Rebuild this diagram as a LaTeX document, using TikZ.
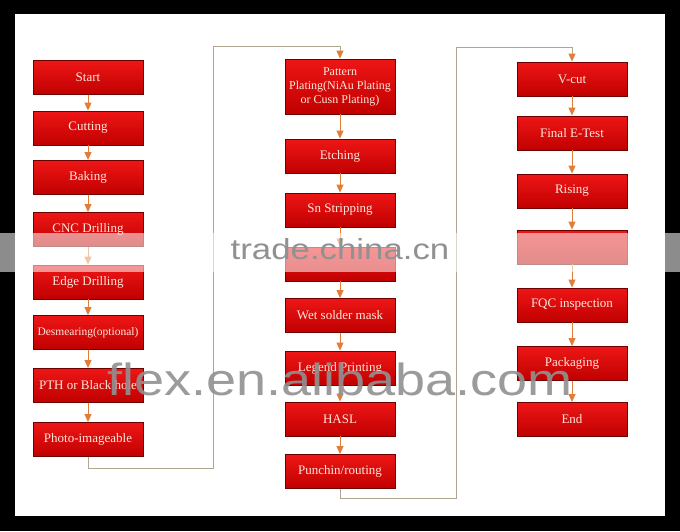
\documentclass[tikz,border=0pt]{standalone}
\usepackage{fontspec}
\setmainfont{Liberation Serif}
\newfontfamily\wmfont{Liberation Sans}
\usetikzlibrary{arrows.meta}
\definecolor{boxtop}{RGB}{238,22,22}
\definecolor{boxbot}{RGB}{192,0,0}
\definecolor{boxedge}{RGB}{110,0,0}
\definecolor{boxtext}{RGB}{255,230,218}
\definecolor{arrc}{RGB}{225,125,55}
\definecolor{linkc}{RGB}{175,165,145}
\definecolor{wmc}{RGB}{145,145,145}
\begin{document}
\begin{tikzpicture}[x=1pt,y=-1pt,
  stepbox/.style={draw=boxedge, line width=0.9pt, top color=boxtop, bottom color=boxbot,
    text=boxtext, font=\fontsize{13}{15}\selectfont, minimum width=110pt,
    minimum height=34pt, inner sep=0pt, align=center},
  arr/.style={draw=arrc, line width=0.9pt, -{Triangle[width=7pt,length=8pt]}},
  link/.style={draw=linkc, line width=0.9pt, -{Triangle[width=7pt,length=8pt,color=arrc]}},
  wm/.style={text=wmc, font=\wmfont, inner sep=0pt}]
\useasboundingbox (0,0) rectangle (680,531);
\fill[black] (0,0) rectangle (680,531);
\fill[white] (15,14) rectangle (665,516);

% column 1
\node[stepbox] (start) at (88,77.5) {Start};
\node[stepbox] (cut) at (88,128) {Cutting};
\node[stepbox] (bake) at (88,177.5) {Baking};
\node[stepbox] (cnc) at (88,229.5) {CNC Drilling};
\node[stepbox] (edge) at (88,282) {Edge Drilling};
\node[stepbox, font=\fontsize{11.5}{13}\selectfont] (desm) at (88,332.5) {Desmearing(optional)};
\node[stepbox] (pth) at (88,385.5) {PTH or Black hole};
\node[stepbox] (photo) at (88,439.5) {Photo-imageable};

% column 2
\node[stepbox, minimum height=55pt, font=\fontsize{12}{14}\selectfont] (pat) at (340,86.5) {Pattern\\Plating(NiAu Plating\\or Cusn Plating)};
\node[stepbox] (etch) at (340,156) {Etching};
\node[stepbox] (sn) at (340,210) {Sn Stripping};
\node[stepbox] (hid2) at (340,264) {};
\node[stepbox] (wet) at (340,315.5) {Wet solder mask};
\node[stepbox] (leg) at (340,368) {Legend Printing};
\node[stepbox] (hasl) at (340,419) {HASL};
\node[stepbox] (punch) at (340,471.5) {Punchin/routing};

% column 3
\node[stepbox] (vcut) at (572,79) {V-cut};
\node[stepbox] (etest) at (572,133) {Final E-Test};
\node[stepbox] (rise) at (572,191) {Rising};
\node[stepbox] (hid3) at (572,247) {};
\node[stepbox] (fqc) at (572,305) {FQC inspection};
\node[stepbox] (pack) at (572,363.5) {Packaging};
\node[stepbox] (end) at (572,419.5) {End};

% short arrows
\foreach \a/\b in {start/cut,cut/bake,bake/cnc,cnc/edge,edge/desm,desm/pth,pth/photo,
  pat/etch,etch/sn,sn/hid2,hid2/wet,wet/leg,leg/hasl,hasl/punch,
  vcut/etest,etest/rise,rise/hid3,hid3/fqc,fqc/pack,pack/end}
  \draw[arr] (\a.south) -- (\b.north);

% long connectors
\draw[link] (photo.south) -- ++(0,11) -| (213,46) -| (pat.north);
\draw[link] (punch.south) -- ++(0,9) -| (456,47) -| (vcut.north);

% watermark band
\fill[white, opacity=0.55] (0,233) rectangle (680,272);
\node[wm, anchor=base] (wm1) at (340,259) {\fontsize{29}{29}\selectfont\scalebox{1.2}[1]{trade.china.cn}};
\node[wm, anchor=base, opacity=0.9] (wm2) at (340,395) {\fontsize{45}{45}\selectfont\scalebox{1.2}[1]{flex.en.alibaba.com}};
\end{tikzpicture}
\end{document}
